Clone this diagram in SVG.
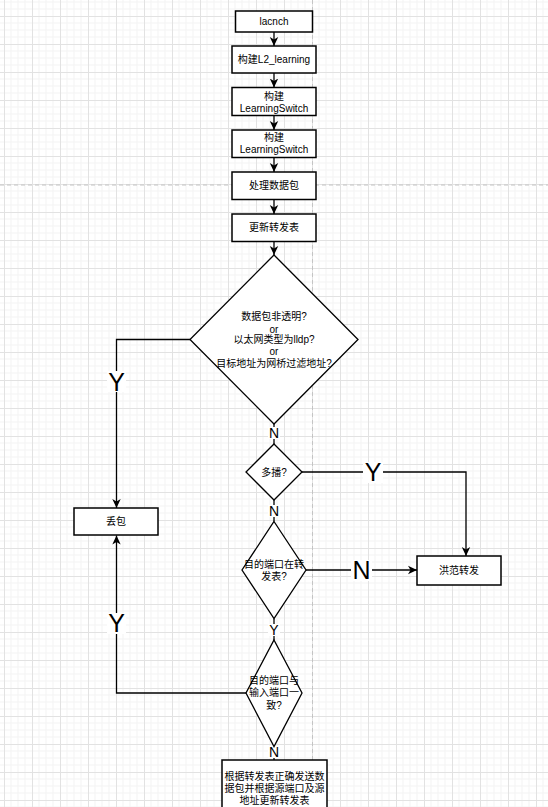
<svg xmlns="http://www.w3.org/2000/svg" width="548" height="807" viewBox="0 0 548 807">
<defs>
<pattern id="grid" x="4" y="16" width="28" height="28" patternUnits="userSpaceOnUse">
<path d="M7,0V28M14,0V28M21,0V28M0,7H28M0,14H28M0,21H28" stroke="#f3f3f3" stroke-width="1" fill="none"/>
<path d="M0.5,0V28M0,0.5H28" stroke="#e2e2e2" stroke-width="1" fill="none"/>
</pattern>
<marker id="arr" markerUnits="userSpaceOnUse" markerWidth="10" markerHeight="10" viewBox="0 0 10 10" refX="9" refY="5" orient="auto">
<path d="M0,0.8 L9,5 L0,9.2 L2.5,5 z" fill="#000"/>
</marker>
<style>
.box{fill:#fff;stroke:#000;stroke-width:1.5}
.dia{fill:#fff;stroke:#000;stroke-width:1.3}
.t{font-family:"Liberation Sans","Noto Sans CJK SC",sans-serif;font-size:10px;fill:#000;text-anchor:middle}
.lbl{font-family:"Liberation Sans","Noto Sans CJK SC",sans-serif;font-size:14px;fill:#000;text-anchor:middle}
.big{font-family:"Liberation Sans","Noto Sans CJK SC",sans-serif;font-size:25px;fill:#000;text-anchor:middle}
.c{fill:none;stroke:#000;stroke-width:1.3}
.bg{fill:#fff}
</style>
</defs>
<rect width="548" height="807" fill="#fff"/>
<rect width="548" height="807" fill="url(#grid)"/>
<line x1="0" y1="185" x2="548" y2="185" stroke="#c4c4c4" stroke-width="1" stroke-dasharray="4,3"/>
<line x1="312.5" y1="0" x2="312.5" y2="807" stroke="#c4c4c4" stroke-width="1" stroke-dasharray="4,3"/>

<g id="connectors">
<path class="c" d="M274,32V46" marker-end="url(#arr)"/>
<path class="c" d="M274,73V87.5" marker-end="url(#arr)"/>
<path class="c" d="M274,115.5V130" marker-end="url(#arr)"/>
<path class="c" d="M274,157.5V172" marker-end="url(#arr)"/>
<path class="c" d="M274,199.5V214" marker-end="url(#arr)"/>
<path class="c" d="M274,241.5V255" marker-end="url(#arr)"/>
<path class="c" d="M190,339.5H116.5V508" marker-end="url(#arr)"/>
<path class="c" d="M274,424V444"/>
<path class="c" d="M302,472H466V556" marker-end="url(#arr)"/>
<path class="c" d="M274,500V521.5"/>
<path class="c" d="M306,570H417" marker-end="url(#arr)"/>
<path class="c" d="M274,618.5V640"/>
<path class="c" d="M246,693H116.5V535.5" marker-end="url(#arr)"/>
<path class="c" d="M274,746.5V760"/>
<rect class="bg" x="107" y="371" width="19" height="21"/>
<text class="big" x="116.5" y="390.5">Y</text>
<rect class="bg" x="268" y="427" width="12" height="12"/>
<text class="lbl" x="274" y="438">N</text>
<rect class="bg" x="363" y="462" width="20" height="21"/>
<text class="big" x="373" y="481">Y</text>
<rect class="bg" x="268" y="505" width="12" height="12"/>
<text class="lbl" x="274" y="516">N</text>
<rect class="bg" x="351" y="560" width="21" height="21"/>
<text class="big" x="361.5" y="579">N</text>
<rect class="bg" x="268" y="624" width="12" height="12"/>
<text class="lbl" x="274" y="635">Y</text>
<rect class="bg" x="107" y="613" width="19" height="21"/>
<text class="big" x="116.5" y="632">Y</text>
<rect class="bg" x="268" y="746" width="12" height="12"/>
<text class="lbl" x="274" y="757">N</text>
</g>

<g id="n-launch"><rect class="box" x="235.5" y="11" width="77" height="21"/><text class="t" x="274" y="25">lacnch</text></g>
<g id="n-l2"><rect class="box" x="232" y="46" width="84" height="27"/><text class="t" x="274" y="63">构建L2_learning</text></g>
<g id="n-ls1"><rect class="box" x="232" y="87.5" width="84" height="28"/><text class="t" x="274" y="100">构建</text><text class="t" x="274" y="111.5">LearningSwitch</text></g>
<g id="n-ls2"><rect class="box" x="232" y="130" width="84" height="27.5"/><text class="t" x="274" y="141">构建</text><text class="t" x="274" y="153">LearningSwitch</text></g>
<g id="n-handle"><rect class="box" x="232" y="172" width="84" height="27.5"/><text class="t" x="274" y="189">处理数据包</text></g>
<g id="n-update"><rect class="box" x="232" y="214" width="84" height="27.5"/><text class="t" x="274" y="231">更新转发表</text></g>
<g id="n-check"><polygon class="dia" points="274,255 358,339.5 274,424 190,339.5"/>
<text class="t" x="274" y="320">数据包非透明?</text>
<text class="t" x="274" y="333">or</text>
<text class="t" x="274" y="343">以太网类型为lldp?</text>
<text class="t" x="274" y="355">or</text>
<text class="t" x="274" y="367">目标地址为网桥过滤地址?</text></g>
<g id="n-drop"><rect class="box" x="74" y="508" width="84" height="27"/><text class="t" x="116" y="525">丢包</text></g>
<g id="n-multi"><polygon class="dia" points="274,444 302,472 274,500 246,472"/><text class="t" x="274" y="475.5">多播?</text></g>
<g id="n-flood"><rect class="box" x="417" y="556" width="84" height="29"/><text class="t" x="459" y="574">洪范转发</text></g>
<g id="n-intable"><polygon class="dia" points="274,521.5 306,570 274,618.5 242,570"/><text class="t" x="274" y="567.5">目的端口在转</text><text class="t" x="274" y="580">发表?</text></g>
<g id="n-same"><polygon class="dia" points="274,640 302,693 274,746.5 246,693"/><text class="t" x="274" y="684">目的端口与</text><text class="t" x="274" y="696">输入端口一</text><text class="t" x="274" y="708.5">致?</text></g>
<g id="n-forward"><rect class="box" x="222" y="760" width="105" height="62"/><text class="t" x="274.5" y="780">根据转发表正确发送数</text><text class="t" x="274.5" y="792">据包并根据源端口及源</text><text class="t" x="274.5" y="804">地址更新转发表</text></g>
</svg>
